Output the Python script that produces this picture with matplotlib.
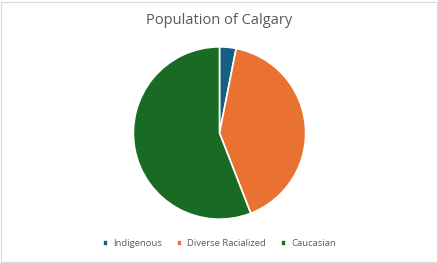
import matplotlib.pyplot as plt
from matplotlib.patches import Rectangle

# Population shares (percent)
labels = ["Indigenous", "Diverse Racialized", "Caucasian"]
shares = [3.1, 41.0, 55.9]
colors = ["#156082", "#E97132", "#196B24"]

fig = plt.figure(figsize=(4.39, 2.63), dpi=100)
plt.rcParams['font.family'] = ['Open Sans', 'DejaVu Sans']

# Pie axes: centre ~ (219.5, 133) px, radius ~ 87 px
ax = fig.add_axes([(219.5 - 87) / 439, 1 - (133 + 87) / 263, 174 / 439, 174 / 263])
wedges, _ = ax.pie(shares, colors=colors, startangle=90, counterclock=False,
                   wedgeprops=dict(edgecolor="white", linewidth=1.2))
ax.set_xlim(-1.01, 1.01)
ax.set_ylim(-1.01, 1.01)
ax.set_aspect("equal")

fig.text(0.5, 1 - 21 / 263, "Population of Calgary", ha="center", va="center",
         fontsize=10.5, color="#595959")

fig.legend(wedges, labels, loc="center", bbox_to_anchor=(0.5, 1 - 244 / 263),
           ncol=3, frameon=False, fontsize=6.8, labelcolor="#595959",
           handlelength=0.55, handleheight=0.55, handletextpad=0.5, columnspacing=1.6)

# outer chart border
fig.patches.append(Rectangle((1 / 439, 1 / 263), 1 - 2.5 / 439, 1 - 2.5 / 263,
                             transform=fig.transFigure, fill=False,
                             edgecolor="#D9D9D9", linewidth=0.8))

fig.savefig("out.png", dpi=100)
